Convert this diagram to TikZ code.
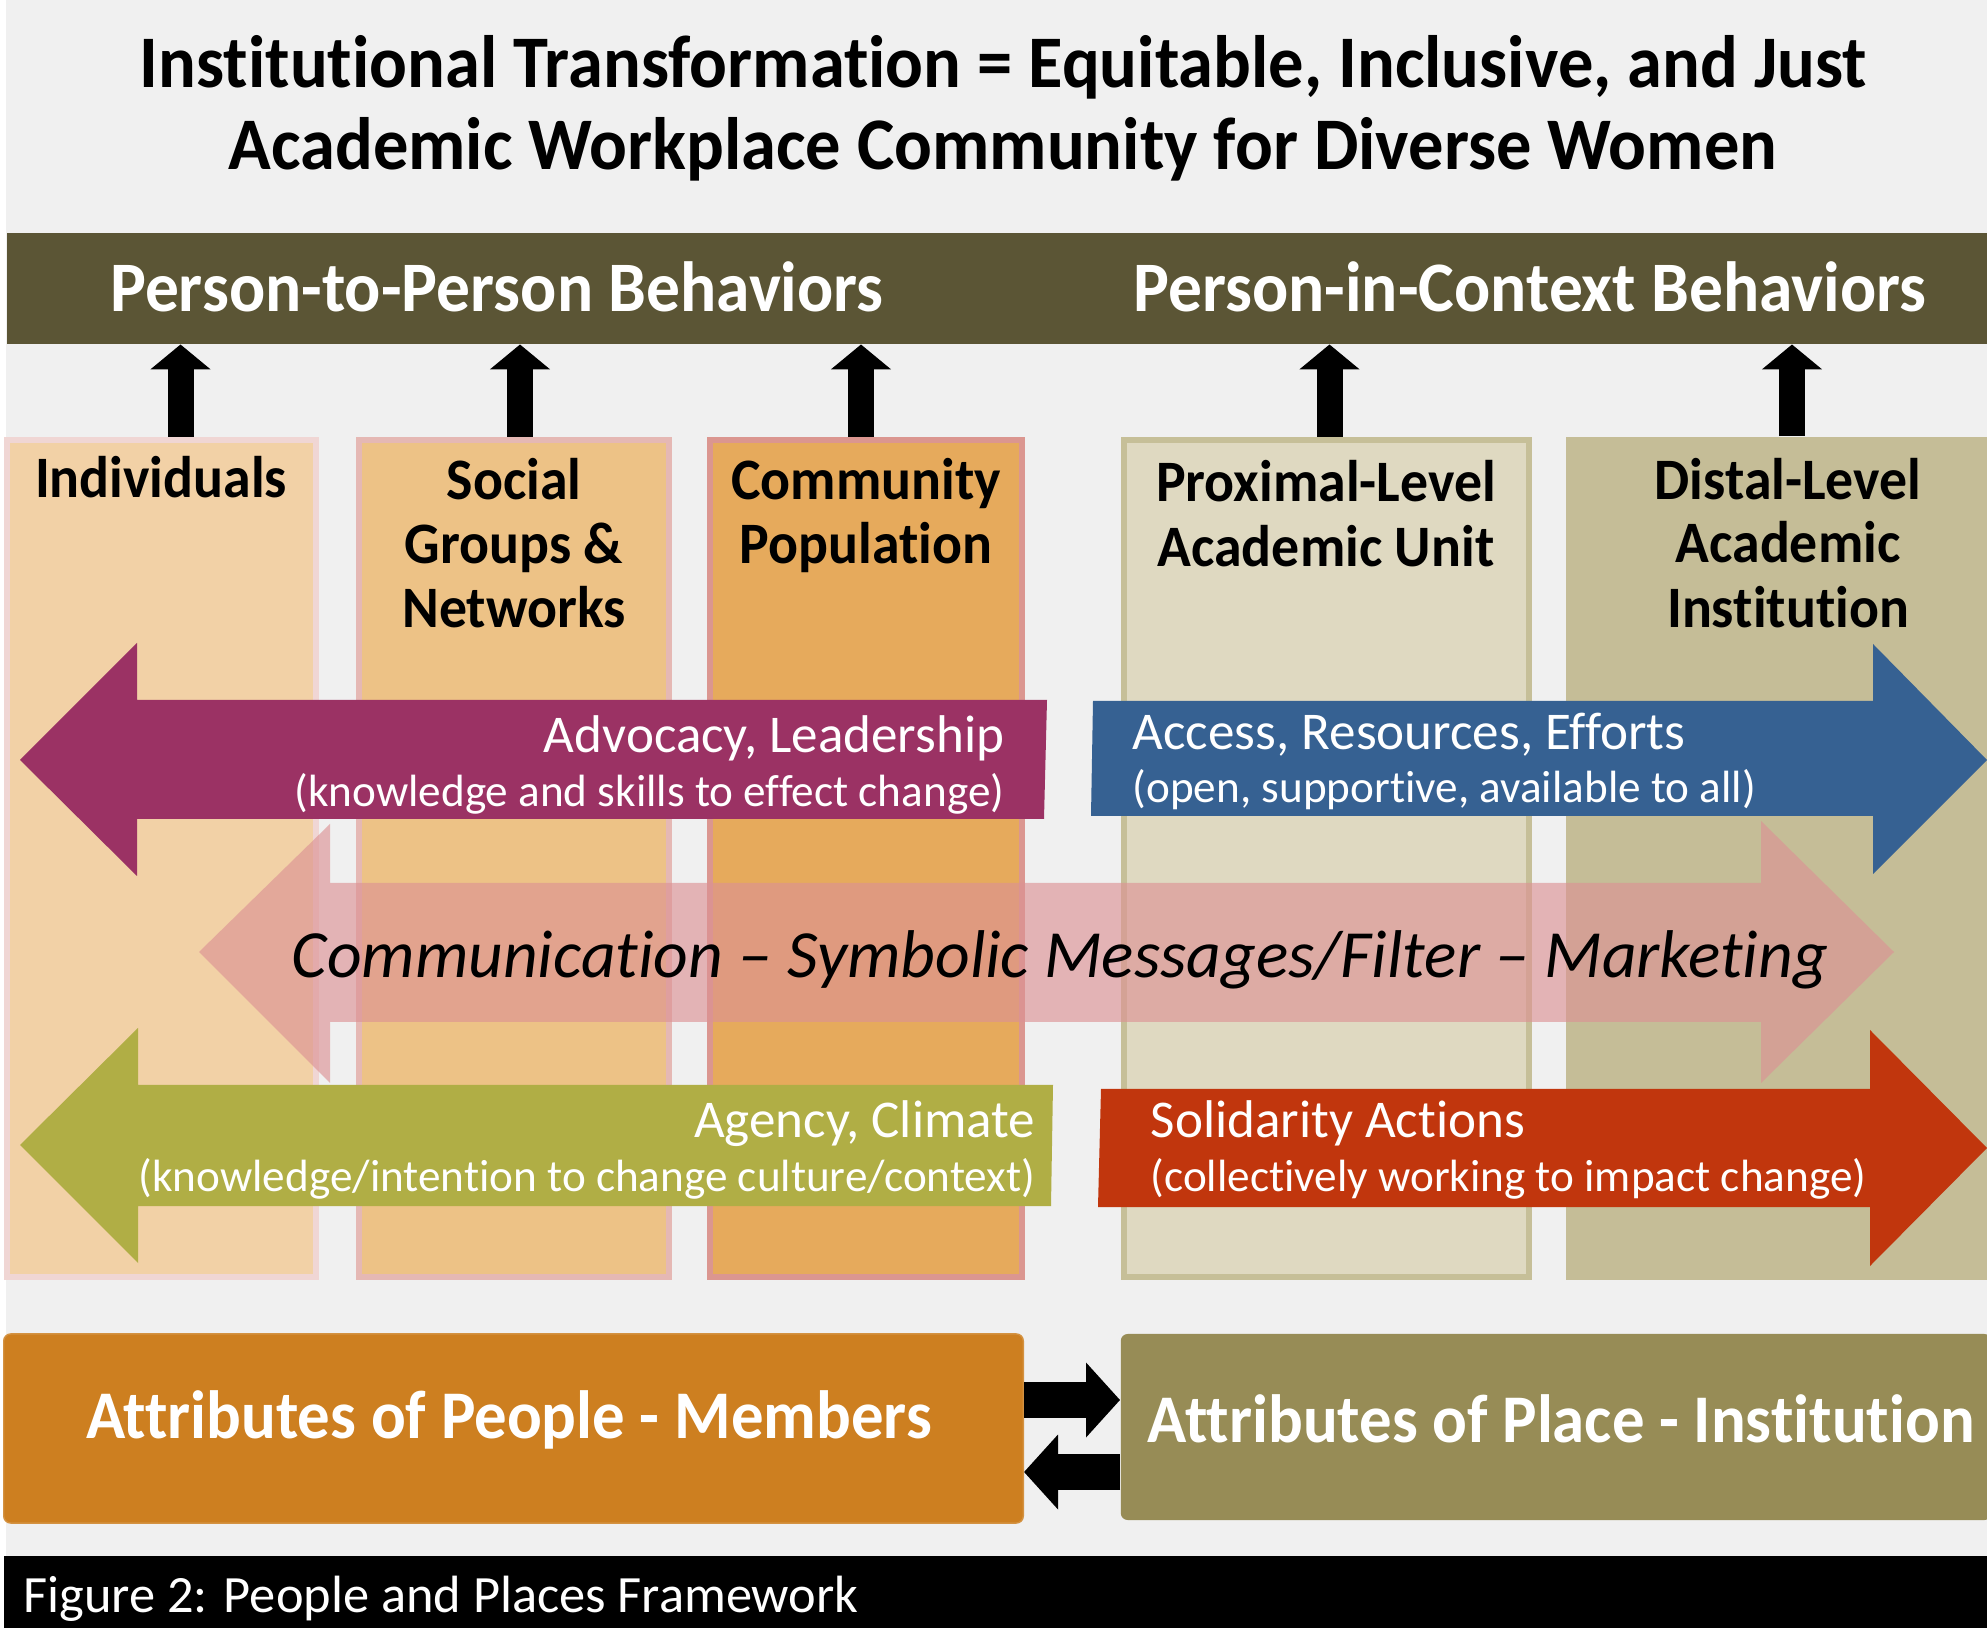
\documentclass[tikz,border=0pt]{standalone}
\usepackage{fontspec}
\setmainfont{Carlito}[Ligatures=NoCommon, BoldFeatures={FakeStretch=0.95}]
\usetikzlibrary{arrows.meta}

\definecolor{pagegray}{HTML}{F0F0F0}
\definecolor{bandolive}{HTML}{5B5535}
\definecolor{indfill}{HTML}{F2D1A6}
\definecolor{indline}{HTML}{F0D6D4}
\definecolor{socfill}{HTML}{EDC286}
\definecolor{socline}{HTML}{E5B8B4}
\definecolor{comfill}{HTML}{E6AA5C}
\definecolor{comline}{HTML}{DB9690}
\definecolor{proxfill}{HTML}{DFD9C1}
\definecolor{proxline}{HTML}{C6BF98}
\definecolor{distfill}{HTML}{C5BD97}
\definecolor{advocacy}{HTML}{9B3264}
\definecolor{access}{HTML}{366192}
\definecolor{agency}{HTML}{B0AE45}
\definecolor{solidarity}{HTML}{C1360D}
\definecolor{commpink}{HTML}{DC9294}
\definecolor{peopleorange}{HTML}{CD7F20}
\definecolor{placeolive}{HTML}{978C56}

\tikzset{
  colbox/.style={line width=1.7pt, minimum height=8.37cm, inner sep=0pt},
  colhead/.style={font=\fontsize{16.7}{20}\selectfont\bfseries, anchor=base, inner sep=0pt},
  uparrow/.style={line width=7.4pt, -{Triangle[width=0.59cm, length=0.25cm]}},
  pairarrow/.style={line width=10pt, -{Triangle[width=0.73cm, length=0.34cm]}},
  flowbig/.style={font=\fontsize{15.1}{18}\selectfont, text=white, inner sep=0pt},
  flowsmall/.style={font=\fontsize{12.85}{15}\selectfont, text=white, inner sep=0pt},
}

\begin{document}
\begin{tikzpicture}[x=0.01cm, y=-0.01cm]
  \useasboundingbox (0,0) rectangle (1987,1628);
  \fill[white] (0,0) rectangle (1987,1628);
  \fill[pagegray] (6,0) rectangle (1987,1556);

  % Title
  \node[font=\fontsize{21.1}{26}\selectfont\bfseries, anchor=base, inner sep=0pt] (title1) at (1003,88)
    {Institutional Transformation = Equitable, Inclusive, and Just};
  \node[font=\fontsize{21.1}{26}\selectfont\bfseries, anchor=base, inner sep=0pt] (title2) at (1003,170)
    {Academic Workplace Community for Diverse Women};

  % Behaviour band
  \node[fill=bandolive, minimum width=19.81cm, minimum height=1.11cm, inner sep=0pt, anchor=north west] (band) at (6,232) {};
  \node[font=\fontsize{20.2}{24}\selectfont\bfseries, text=white, anchor=base, inner sep=0pt] (p2p) at (497,312) {Person-to-Person Behaviors};
  \node[font=\fontsize{20.2}{24}\selectfont\bfseries, text=white, anchor=base, inner sep=0pt] (pic) at (1530,312) {Person-in-Context Behaviors};

  % Columns
  \node[colbox, draw=indline, fill=indfill, minimum width=3.09cm] (ind) at (161.5,858.5) {};
  \node[colbox, draw=socline, fill=socfill, minimum width=3.10cm] (soc) at (514,858.5) {};
  \node[colbox, draw=comline, fill=comfill, minimum width=3.12cm] (com) at (866,858.5) {};
  \node[colbox, draw=proxline, fill=proxfill, minimum width=4.05cm] (prox) at (1326.5,858.5) {};
  \node[fill=distfill, minimum width=4.21cm, minimum height=8.43cm, inner sep=0pt] (dist) at (1776.5,858.5) {};

  \node[colhead] (indT) at (161,498) {Individuals};
  \node[colhead] (socT1) at (514,500) {Social};
  \node[colhead] (socT2) at (514,564) {Groups \&};
  \node[colhead] (socT3) at (514,628) {Networks};
  \node[colhead] (comT1) at (866,500) {Community};
  \node[colhead] (comT2) at (866,564) {Population};
  \node[colhead] (proxT1) at (1326,502) {Proximal-Level};
  \node[colhead] (proxT2) at (1326,567) {Academic Unit};
  \node[colhead] (distT1) at (1788,500) {Distal-Level};
  \node[colhead] (distT2) at (1788,563) {Academic};
  \node[colhead] (distT3) at (1788,628) {Institution};

  % Arrows up to the band
  \coordinate (indUp) at ([xshift=0.19cm]ind.north);
  \coordinate (socUp) at ([xshift=0.06cm]soc.north);
  \coordinate (comUp) at ([xshift=-0.05cm]com.north);
  \coordinate (proxUp) at ([xshift=0.03cm]prox.north);
  \coordinate (distUp) at ([xshift=0.155cm]dist.north);
  \draw[uparrow] (indUp) -- (indUp |- band.south);
  \draw[uparrow] (socUp) -- (socUp |- band.south);
  \draw[uparrow] (comUp) -- (comUp |- band.south);
  \draw[uparrow] (proxUp) -- (proxUp |- band.south);
  \draw[uparrow] (distUp) -- (distUp |- band.south);

  % Advocacy and access
  \fill[advocacy] (1047,700) -- (137,700) -- (137,643) -- (20,760) -- (137,876) -- (137,819) -- (1044,819) -- cycle;
  \node[flowbig, anchor=base east] (advT) at (1005,753) {Advocacy, Leadership};
  \node[flowsmall, anchor=base east] (advS) at (1005,807) {(knowledge and skills to effect change)};

  \fill[access] (1093,701) -- (1873,701) -- (1873,644) -- (1987,760) -- (1873,874) -- (1873,816) -- (1091,816) -- cycle;
  \node[flowbig, anchor=base west] (accT) at (1132,750) {Access, Resources, Efforts};
  \node[flowsmall, anchor=base west] (accS) at (1132,803) {(open, supportive, available to all)};

  % Communication
  \fill[commpink, opacity=0.64] (199,952) -- (330,824) -- (330,883) -- (1761,883) -- (1761,821) -- (1894,952)
    -- (1761,1083) -- (1761,1022) -- (330,1022) -- (330,1083) -- cycle;
  \node[font=\fontsize{19.2}{23}\selectfont\itshape, anchor=base, inner sep=0pt] (commT) at (1060,978)
    {Communication – Symbolic Messages/Filter – Marketing};

  % Agency and solidarity
  \fill[agency] (1053,1085) -- (138,1085) -- (138,1028) -- (20,1145) -- (138,1263) -- (138,1206) -- (1051,1206) -- cycle;
  \node[flowbig, anchor=base east] (agT) at (1036,1137) {Agency, Climate};
  \node[flowsmall, anchor=base east] (agS) at (1036,1192) {(knowledge/intention to change culture/context)};

  \fill[solidarity] (1101,1089) -- (1870,1089) -- (1870,1030) -- (1987,1148) -- (1870,1266) -- (1870,1207) -- (1098,1207) -- cycle;
  \node[flowbig, anchor=base west] (solT) at (1150,1137) {Solidarity Actions};
  \node[flowsmall, anchor=base west] (solS) at (1150,1192) {(collectively working to impact change)};

  % Attributes
  \node[fill=peopleorange, draw=peopleorange!85!white, rounded corners=2pt, minimum width=10.19cm, minimum height=1.89cm] (people) at (513.5,1428.5) {};
  \node[fill=placeolive, rounded corners=2pt, minimum width=8.70cm, minimum height=1.86cm] (place) at (1556,1427) {};
  \node[font=\fontsize{19.4}{23}\selectfont\bfseries, text=white, anchor=base, inner sep=0pt] (peopleT) at (509,1438) {Attributes of People - Members};
  \node[font=\fontsize{19.4}{23}\selectfont\bfseries, text=white, anchor=base west, inner sep=0pt] (placeT) at (1147,1442) {Attributes of Place - Institution};

  \draw[pairarrow] (people.east |- 0,1400) -- (place.west |- 0,1400);
  \draw[pairarrow] (place.west |- 0,1472) -- (people.east |- 0,1472);

  % Caption
  \fill[black] (4,1556) rectangle (1987,1628);
  \node[font=\fontsize{14.9}{19}\selectfont, text=white, anchor=base west, inner sep=0pt] (caption) at (23,1612) {Figure 2: People and Places Framework};
\end{tikzpicture}
\end{document}
